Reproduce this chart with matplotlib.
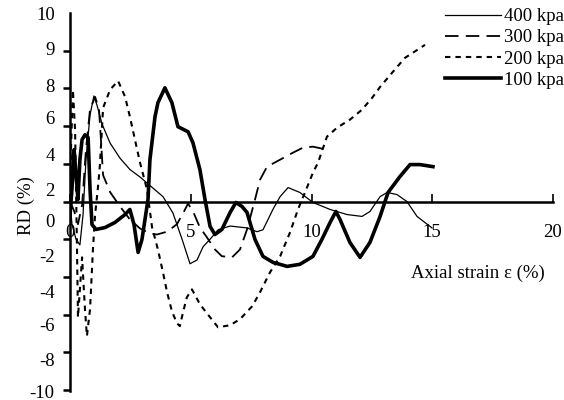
import matplotlib
matplotlib.use("Agg")
import matplotlib.pyplot as plt

plt.rcParams['font.family'] = ['Liberation Serif', 'DejaVu Serif']
plt.rcParams['font.size'] = 13.5

# 400 kpa (thin solid)
x400 = [0, 0.08, 0.25, 0.41, 0.54, 0.66, 0.83, 0.99, 1.12, 1.33, 1.66, 2.07, 2.48, 2.9,
        3.31, 3.85, 4.26, 4.64, 4.97, 5.26, 5.51, 5.8, 6.13, 6.63, 7.33, 7.74, 7.99, 8.41,
        8.7, 9.03, 9.52, 10.06, 10.77, 11.47, 12.09, 12.42, 12.84, 13.13, 13.54, 13.95,
        14.37, 14.99]
y400 = [0, -1.2, -2.0, -2.3, -0.7, 2.2, 4.6, 5.6, 5.1, 4.1, 3.1, 2.3, 1.7, 1.3,
        0.85, 0.26, -0.6, -2.0, -3.3, -3.1, -2.4, -2.0, -1.5, -1.3, -1.4, -1.6, -1.5, -0.4,
        0.26, 0.74, 0.48, -0.05, -0.42, -0.69, -0.79, -0.53, 0.26, 0.48, 0.37, 0.0,
        -0.79, -1.4]

# 300 kpa (long dashes)
x300 = [0, 0.17, 0.33, 0.5, 0.66, 0.83, 1.04, 1.2, 1.28, 1.37, 1.66, 2.07, 2.48, 2.9,
        3.31, 3.6, 4.02, 4.43, 4.72, 4.89, 5.13, 5.38, 5.67, 6.0, 6.29, 6.71, 7.04, 7.33,
        7.66, 7.87, 8.16, 8.7, 9.23, 9.65, 10.06, 10.64]
y300 = [0, -0.5, -1.2, -0.2, 2.75, 4.9, 5.55, 4.9, 3.3, 1.4, 0.5, -0.26, -0.95, -1.43,
        -1.69, -1.75, -1.6, -1.2, -0.53, -0.1, -0.63, -1.38, -1.9, -2.54, -2.9, -2.96,
        -2.54, -1.48, 0.1, 1.16, 1.85, 2.22, 2.59, 2.86, 2.91, 2.75]

# 200 kpa (short dashes)
x200 = [0, 0.04, 0.12, 0.21, 0.29, 0.33, 0.41, 0.5, 0.62, 0.7, 0.83, 0.95, 1.04, 1.16,
        1.24, 1.37, 1.66, 1.99, 2.28, 2.48, 2.69, 2.9, 3.19, 3.4, 3.64, 3.85, 4.02, 4.22,
        4.43, 4.55, 4.68, 4.84, 5.05, 5.38, 5.8, 6.13, 6.63, 7.04, 7.54, 7.87, 8.28, 8.7,
        9.11, 9.44, 9.73, 10.06, 10.27, 10.64, 11.06, 11.59, 12.09, 12.51, 12.84, 13.37,
        13.87, 14.7]
y200 = [0, 2.75, 5.93, 3.81, -2.54, -6.14, -4.66, -2.96, -5.71, -7.14, -5.71, -2.54,
        -0.69, 0.79, 1.96, 4.97, 5.93, 6.4, 5.56, 4.5, 3.28, 2.06, 0.63, -1.38, -2.54,
        -3.76, -4.81, -5.82, -6.46, -6.61, -5.87, -5.08, -4.66, -5.45, -6.14, -6.67,
        -6.56, -6.24, -5.56, -4.81, -3.76, -2.91, -1.64, -0.42, 0.48, 1.53, 2.06, 3.44,
        3.92, 4.34, 4.87, 5.5, 6.08, 6.88, 7.62, 8.31]

# 100 kpa (thick solid)
x100 = [0, 0.08, 0.17, 0.25, 0.33, 0.41, 0.5, 0.62, 0.75, 0.83, 0.91, 1.08, 1.45, 1.86,
        2.28, 2.48, 2.65, 2.82, 2.98, 3.23, 3.31, 3.52, 3.64, 3.93, 4.22, 4.47, 4.89, 5.09,
        5.38, 5.59, 5.8, 6.0, 6.29, 6.63, 6.87, 7.12, 7.33, 7.66, 7.99, 8.41, 8.99, 9.52,
        10.06, 10.43, 10.77, 11.01, 11.18, 11.59, 12.01, 12.42, 12.84, 13.17, 13.66, 14.08,
        14.49, 15.03]
y100 = [-0.69, 0.63, 2.75, 1.43, 0.11, 2.22, 3.28, 3.54, 3.39, 0.63, -1.22, -1.48, -1.38,
        -1.11, -0.69, -0.42, -1.22, -2.7, -2.01, 0.11, 2.22, 4.5, 5.24, 6.03, 5.24, 3.97,
        3.7, 3.12, 1.69, 0.11, -1.32, -1.75, -1.48, -0.58, -0.05, -0.26, -0.58, -2.01,
        -2.91, -3.23, -3.44, -3.33, -2.91, -2.01, -1.11, -0.53, -0.95, -2.17, -2.96, -2.17,
        -0.79, 0.48, 1.32, 1.96, 1.96, 1.85]

# y tick labels as printed in the figure (they sit off the tick marks)
ytick_pos = [10, 8.1, 6.14, 4.44, 2.49, 0.63, -1.0, -2.86, -4.76, -6.51, -8.36, -10.05]
ytick_lab = ['10', '9', '8', '6', '4', '2', '0', '-2', '-4', '-6', '-8', '-10']
xticks = [0, 5, 10, 15, 20]

fig = plt.figure(figsize=(5.64, 4), dpi=100)
ax = fig.add_axes([70/564, 1 - 391/400, 483/564, 378/400])

ax.plot(x400, y400, color='black', lw=0.9, label='400 kpa')
ax.plot(x300, y300, color='black', lw=1.3, dashes=(7.5, 4), label='300 kpa')
ax.plot(x200, y200, color='black', lw=1.5, dashes=(2.6, 2.4), label='200 kpa')
ax.plot(x100, y100, color='black', lw=2.6, label='100 kpa')

ax.set_xlim(0, 20)
ax.set_ylim(-10, 10)

ax.spines['top'].set_visible(False)
ax.spines['right'].set_visible(False)
ax.spines['bottom'].set_position(('data', 0))
ax.spines['left'].set_linewidth(1.8)
ax.spines['bottom'].set_linewidth(1.8)

ax.set_xticks(xticks)
ax.tick_params(axis='x', direction='in', length=6, width=1.2, pad=16)

ax.set_yticks(ytick_pos)
ax.set_yticklabels(ytick_lab)
ax.set_yticks(range(-10, 11, 2), minor=True)
ax.tick_params(axis='y', which='major', length=0, pad=11)
ax.tick_params(axis='y', which='minor', direction='out', length=5, width=1.8)

ax.set_ylabel('RD (%)')
ax.yaxis.set_label_coords(-0.073, 0.49)
ax.set_xlabel('Axial strain ε (%)')
ax.xaxis.set_label_coords(0.845, 0.335)

fig.legend(loc='upper right', bbox_to_anchor=(1.0, 0.98), frameon=False,
           handlelength=3.0, handletextpad=0.15, labelspacing=0.22,
           borderpad=0, borderaxespad=0)

fig.savefig('out.png', dpi=100)
